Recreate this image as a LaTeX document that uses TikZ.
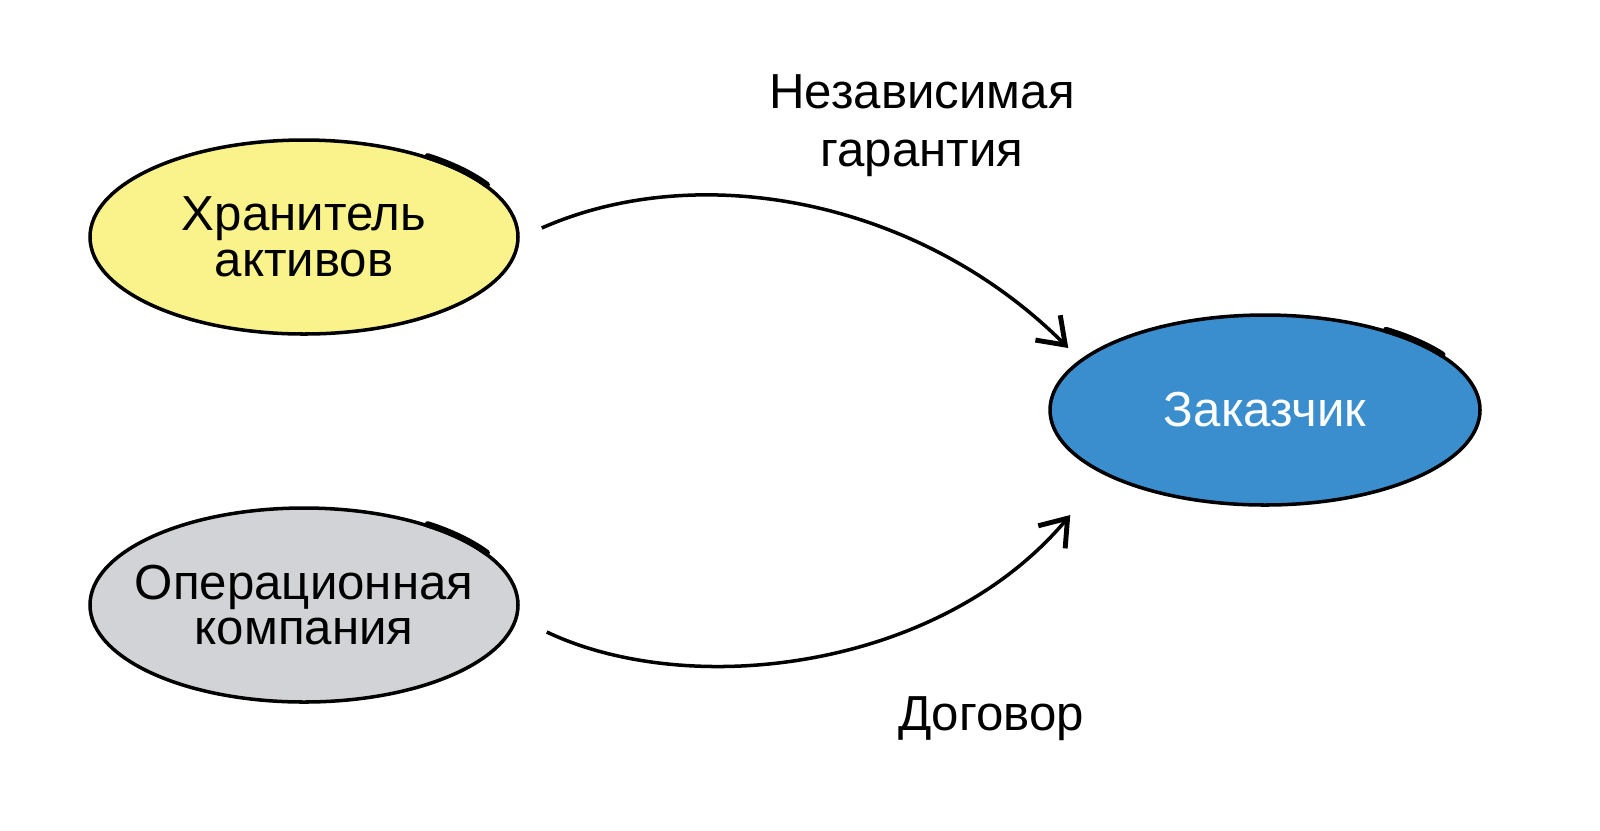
\documentclass[tikz,border=0pt]{standalone}
\usepackage{fontspec}
\setmainfont{Liberation Sans}
\usetikzlibrary{arrows.meta,shapes.geometric}
\definecolor{keeperyellow}{RGB}{250,243,140}
\definecolor{clientblue}{RGB}{59,142,206}
\definecolor{opgray}{RGB}{210,211,214}
\begin{document}
\begin{tikzpicture}[
  party/.style={ellipse,draw=black,line width=1pt,inner xsep=-0.25cm,inner ysep=0pt,
    minimum width=4.28cm,minimum height=1.94cm,align=center,
    font=\fontsize{14}{13}\selectfont},
  sketch/.style={line width=1.8pt,line cap=round},
  link/.style={line width=1pt,-{Straight Barb[length=7pt,width=10pt,line width=1.4pt]}},
  tag/.style={align=center,font=\fontsize{14}{16.5}\selectfont}
]
\useasboundingbox (0,0) rectangle (16,8.3);

\node[party,fill=keeperyellow] (keeper) at (3.04,5.93) {Хранитель\\активов};
\node[party,fill=opgray] (opco) at (3.04,2.25) {Операционная\\компания};
\node[party,fill=clientblue,text=white,minimum width=4.30cm,minimum height=1.90cm] (client) at (12.65,4.20) {Заказчик};

% double strokes
\draw[sketch] (keeper.center) ++(55:2.155 and 0.985) arc[start angle=55,end angle=32,x radius=2.155,y radius=0.985];
\draw[sketch] (opco.center) ++(55:2.155 and 0.985) arc[start angle=55,end angle=32,x radius=2.155,y radius=0.985];
\draw[sketch] (client.center) ++(56:2.165 and 0.965) arc[start angle=56,end angle=35,x radius=2.165,y radius=0.965];

\draw[link] ([shift={(0.22,0.09)}]keeper.east) .. controls (7.0,6.72) and (9.2,6.3) .. ([shift={(0.2,0.62)}]client.west);
\draw[link] ([shift={(0.27,-0.27)}]opco.east) .. controls (6.9,1.3) and (9.4,1.6) .. ([shift={(0.22,-1.05)}]client.west);

\node[tag] (guarantee) at (9.22,7.04) {Независимая\\гарантия};
\node[tag,anchor=base] (contract) at (9.91,1.00) {Договор};
\end{tikzpicture}
\end{document}
